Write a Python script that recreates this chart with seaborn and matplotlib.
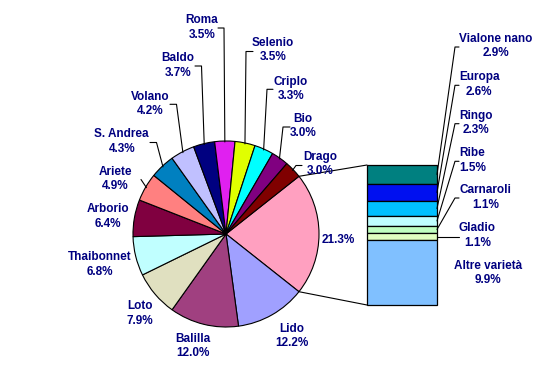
import numpy as np
import seaborn as sns
import matplotlib.pyplot as plt

# pie slices, clockwise from the "other varieties" slice that is split into the bar
pie_names = ["Altre", "Lido", "Balilla", "Loto", "Thaibonnet", "Arborio", "Ariete",
             "S. Andrea", "Volano", "Baldo", "Roma", "Selenio", "Criplo", "Bio", "Drago"]
pie_values = [21.3, 12.2, 12.0, 7.9, 6.8, 6.4, 4.9, 4.3, 4.2, 3.7, 3.5, 3.5, 3.3, 3.0, 3.0]
pie_colors = ["#FFA0C0", "#A0A0FF", "#A04080", "#E0E0C0", "#C0FFFF", "#800040", "#FF8080",
              "#0080C0", "#C0C0FF", "#000080", "#E020F0", "#E0FF00", "#00FFFF", "#800080", "#800000"]

# breakdown of the 21.3% slice, top to bottom
bar_names = ["Vialone nano", "Europa", "Ringo", "Ribe", "Carnaroli", "Gladio", "Altre varietà"]
bar_values = [2.9, 2.6, 2.3, 1.5, 1.1, 1.1, 9.9]
bar_colors = ["#008080", "#0010F0", "#00C0FF", "#C0FFFF", "#C0FFC0", "#E0FFC0", "#80C0FF"]

sns.set_theme(style="white")
plt.rcParams["font.family"] = ["Liberation Sans", "DejaVu Sans"]

W, H = 557, 368
fig = plt.figure(figsize=(W / 100, H / 100), dpi=100)
ax = fig.add_axes([0, 0, 1, 1])

def Y(y):
    # pixel row (top-down) -> axis y
    return H - y

navy = "#000080"
txt = dict(color=navy, fontsize=8.5, fontweight="bold", ha="center", va="center")

# --- pie ---
cx, cy, r = 226, Y(234), 93
start = pie_values[0] / sum(pie_values) * 360 / 2
wedges, _ = ax.pie(pie_values, colors=pie_colors, startangle=start, counterclock=False,
                   center=(cx, cy), radius=r, frame=True,
                   wedgeprops=dict(edgecolor="black", linewidth=0.8))

def edge_point(w, frac=1.0):
    a = np.deg2rad((w.theta1 + w.theta2) / 2)
    return cx + r * frac * np.cos(a), cy + r * frac * np.sin(a)

# label positions (pixel coords of the name line) and leader elbows
pie_label_pos = {
    "Roma": (201.7, 20, [(218, 28), (224, 28)]),
    "Selenio": (273, 43, [(253, 51.5), (246, 51.5)]),
    "Criplo": (290.7, 81.7, [(273, 89.3), (267, 89.3)]),
    "Bio": (303, 119, [(290, 127), (283, 127)]),
    "Drago": (320, 156.7, [(302, 165.5), (296, 165.5)]),
    "Baldo": (178, 58, [(195, 66), (201.5, 66)]),
    "Volano": (150, 96.7, [(170, 104.3), (176.5, 104.3)]),
    "S. Andrea": (121.7, 134.3, [(150, 142.5), (156.5, 142.5)]),
    "Ariete": (115, 171.7, [(141, 179.5)]),
    "Arborio": (108.3, 209.3, []),
    "Thaibonnet": (100, 257.3, []),
    "Loto": (140, 306, []),
    "Balilla": (192.7, 339, []),
    "Lido": (291.7, 329, []),
}

for w, name, val in zip(wedges, pie_names, pie_values):
    if name not in pie_label_pos:
        ax.text(338.3, Y(240), f"{val:.1f}%", **txt)
        continue
    lx, ly, leader = pie_label_pos[name]
    ax.text(lx, Y(ly), name, **txt)
    ax.text(lx, Y(ly + 14.5), f"{val:.1f}%", **txt)
    if leader:
        ex, ey = edge_point(w, 0.99)
        xs = [p[0] for p in leader] + [ex]
        ys = [Y(p[1]) for p in leader] + [ey]
        ax.plot(xs, ys, color="black", lw=0.8)

# --- stacked bar ---
bar_x, bar_w, bar_bottom, bar_h = 402, 70, Y(305), 140
scale = bar_h / sum(bar_values)
bottoms = []
b = bar_bottom
for v in bar_values[::-1]:
    bottoms.append(b)
    b += v * scale
bottoms = bottoms[::-1]
heights = [v * scale for v in bar_values]
ax.bar([bar_x] * len(bar_values), heights, bottom=bottoms, width=bar_w,
       color=bar_colors, edgecolor="black", linewidth=0.9)

# connectors between pie slice and bar
for ang, by in [(start, bar_bottom + bar_h), (-start, bar_bottom)]:
    a = np.deg2rad(ang)
    ax.plot([cx + r * np.cos(a), bar_x - bar_w / 2], [cy + r * np.sin(a), by],
            color="black", lw=0.8)

bar_label_pos = [(496, 39), (479.3, 77.3), (476, 115.7), (472.3, 153.3),
                 (485.7, 190), (477.3, 228.3), (488.3, 265.7)]
right = bar_x + bar_w / 2
for name, val, (lx, ly), bt, h in zip(bar_names, bar_values, bar_label_pos, bottoms, heights):
    ax.text(lx, Y(ly), name, **txt)
    ax.text(lx, Y(ly + 14.5), f"{val:.1f}%", **txt)
    if name == "Altre varietà":
        continue
    ym = bt + h / 2
    if name == "Gladio":
        ax.plot([right, 459], [ym, ym], color="black", lw=0.8)
    else:
        ax.plot([459, 455, right], [Y(ly + 8), Y(ly + 8), ym], color="black", lw=0.8)

ax.set_xlim(0, W)
ax.set_ylim(0, H)
ax.set_aspect("auto")
ax.axis("off")
fig.savefig("out.png", dpi=100, facecolor="white")
